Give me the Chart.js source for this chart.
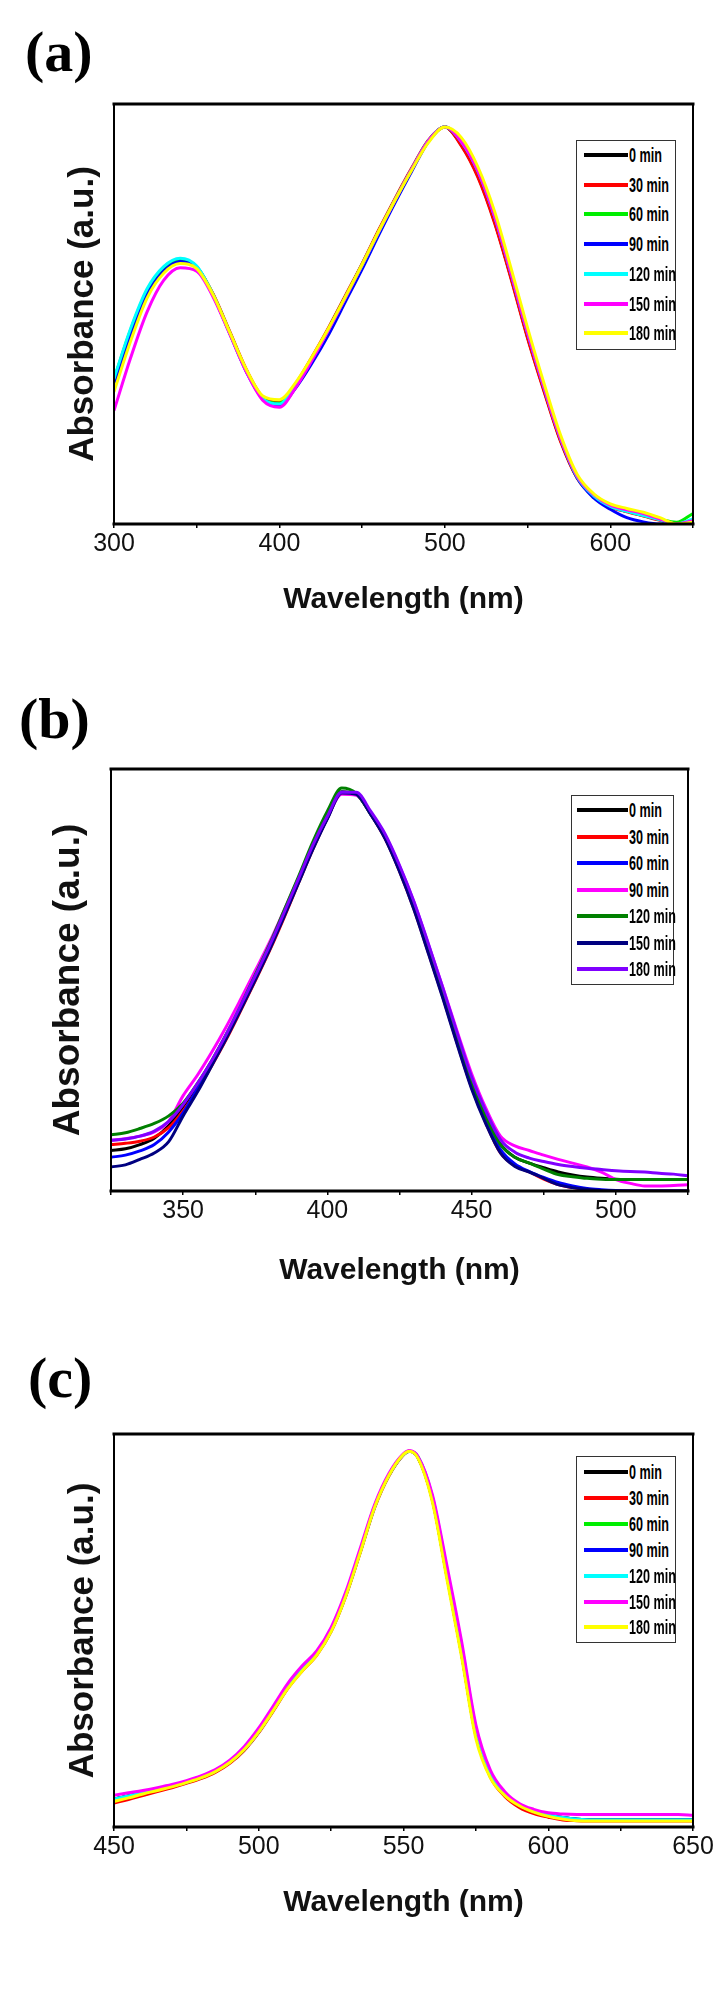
<!DOCTYPE html>
<html><head><meta charset="utf-8">
<script src="https://cdn.jsdelivr.net/npm/chart.js@4.4.1/dist/chart.umd.min.js"></script>
<style>
html,body{margin:0;padding:0;background:#fff;}
body{width:726px;height:1993px;position:relative;overflow:hidden;font-family:"Liberation Sans",Arial,sans-serif;}
canvas{position:absolute;left:0;}
.plabel{position:absolute;font-family:"Liberation Serif","Times New Roman",serif;font-weight:bold;font-size:58px;line-height:58px;color:#000;}
.legend{position:absolute;border:1.5px solid #333;background:#fff;box-sizing:border-box;}
.row{position:absolute;display:flex;align-items:center;font-weight:bold;font-size:21px;color:#000;white-space:nowrap;}
.row .ln{display:inline-block;height:4px;margin-right:1px;}
.row .tx{display:inline-block;transform:scaleX(0.6);transform-origin:left center;}
</style></head><body>
<div class="plabel" style="left:25px;top:23px">(a)</div>
<div class="plabel" style="left:19px;top:690px">(b)</div>
<div class="plabel" style="left:28px;top:1349px">(c)</div>
<script>
// ---------- Panel (a) ----------
const WL_A = [300,310,320,330,340,350,360,370,380,390,400,410,420,430,440,450,460,470,480,490,500,510,520,530,540,550,560,570,580,590,600,610,620,630,640,650];
const A_0   = [.34,.455,.55,.605,.627,.612,.545,.455,.365,.30,.288,.333,.397,.467,.542,.618,.697,.773,.845,.912,.945,.902,.828,.72,.587,.445,.318,.198,.11,.066,.042,.03,.02,.01,0,.005];
const A_30  = [.34,.452,.548,.603,.627,.612,.547,.458,.368,.302,.29,.335,.4,.47,.545,.62,.7,.776,.848,.914,.945,.9,.825,.717,.584,.442,.315,.196,.109,.065,.041,.029,.019,.009,0,.005];
const A_60  = [.345,.462,.556,.61,.63,.612,.545,.455,.365,.30,.288,.333,.397,.467,.542,.618,.697,.773,.845,.912,.945,.91,.84,.733,.597,.455,.324,.203,.112,.067,.043,.031,.021,.011,.004,.025];
const A_90  = [.335,.45,.546,.602,.625,.61,.543,.453,.363,.298,.284,.325,.385,.453,.53,.607,.688,.766,.84,.91,.945,.91,.84,.733,.597,.455,.324,.203,.11,.062,.035,.015,.005,0,0,.004];
const A_120 = [.346,.465,.56,.613,.633,.614,.545,.454,.363,.298,.286,.331,.395,.465,.54,.616,.695,.772,.845,.912,.945,.91,.84,.733,.597,.455,.324,.203,.112,.067,.042,.03,.02,.01,0,.012];
const A_150 = [.27,.395,.505,.58,.61,.602,.54,.452,.362,.294,.278,.326,.392,.464,.54,.617,.696,.772,.845,.912,.945,.91,.84,.733,.597,.455,.324,.203,.114,.07,.045,.034,.025,.012,0,.008];
const A_180 = [.315,.435,.538,.597,.62,.608,.545,.456,.368,.305,.296,.338,.4,.468,.542,.618,.697,.772,.843,.908,.945,.92,.85,.745,.609,.467,.334,.211,.118,.072,.048,.037,.028,.015,0,.004];
const TICKS_A = [300,400,500,600];
const LABELS_A = ['0 min','30 min','60 min','90 min','120 min','150 min','180 min'];

// ---------- Panel (b) ----------
const WL_B = [325,330,335,340,345,350,355,360,365,370,375,380,385,390,395,400,405,410,415,420,425,430,435,440,445,450,455,460,465,470,475,480,485,490,495,500,505,510,515,520,525];
const B_0   = [.096,.10,.11,.125,.155,.20,.25,.307,.37,.437,.507,.578,.655,.735,.815,.886,.946,.94,.895,.84,.765,.678,.577,.473,.365,.262,.178,.111,.08,.066,.055,.045,.038,.033,.03,.028,.027,.027,.027,.027,.027];
const B_30  = [.11,.113,.118,.128,.15,.19,.24,.298,.36,.428,.498,.57,.648,.73,.81,.883,.944,.94,.893,.835,.758,.668,.565,.46,.35,.245,.16,.09,.06,.045,.028,.015,.008,.003,.001,0,0,0,0,0,0];
const B_60  = [.08,.085,.095,.11,.14,.185,.243,.305,.368,.435,.505,.576,.653,.733,.813,.884,.945,.94,.893,.837,.76,.672,.57,.465,.355,.25,.165,.098,.064,.046,.032,.02,.012,.006,.003,.001,0,0,0,0,0];
const B_90  = [.12,.124,.13,.14,.165,.226,.275,.33,.39,.455,.522,.59,.665,.742,.818,.886,.94,.938,.895,.843,.77,.685,.585,.483,.378,.278,.195,.13,.107,.096,.085,.075,.066,.057,.045,.027,.018,.012,.012,.013,.015];
const B_120 = [.133,.138,.148,.16,.178,.208,.255,.31,.372,.44,.512,.585,.665,.745,.828,.90,.955,.942,.893,.838,.762,.675,.574,.47,.362,.258,.175,.11,.08,.066,.052,.039,.034,.03,.028,.027,.027,.027,.027,.027,.027];
const B_150 = [.057,.062,.075,.09,.117,.178,.235,.298,.362,.43,.50,.572,.65,.73,.81,.882,.943,.94,.893,.835,.757,.667,.563,.457,.347,.242,.158,.09,.058,.045,.03,.015,.008,.004,.001,0,0,0,0,0,0];
const B_180 = [.12,.123,.13,.142,.165,.205,.255,.31,.372,.44,.51,.582,.66,.74,.82,.888,.945,.945,.90,.846,.772,.686,.586,.482,.374,.27,.188,.122,.092,.078,.07,.063,.058,.054,.051,.048,.046,.045,.042,.04,.036];
const TICKS_B = [350,400,450,500];
const LABELS_B = ['0 min','30 min','60 min','90 min','120 min','150 min','180 min'];

// ---------- Panel (c) ----------
const WL_C = [450,455,460,465,470,475,480,485,490,495,500,505,510,515,520,525,530,535,540,545,550,552,555,560,565,570,575,580,585,590,595,600,605,610,615,620,625,630,635,640,645,650];
const C_0   = [.071,.079,.087,.095,.104,.114,.126,.142,.165,.198,.243,.298,.355,.40,.44,.50,.589,.70,.815,.896,.948,.956,.94,.832,.638,.443,.233,.129,.081,.055,.04,.03,.024,.02,.018,.018,.018,.018,.018,.018,.018,.018];
const C_30  = [.061,.07,.08,.09,.1,.111,.123,.139,.162,.195,.24,.295,.352,.397,.437,.497,.586,.697,.812,.894,.947,.956,.94,.832,.638,.443,.233,.127,.078,.05,.034,.025,.018,.016,.015,.015,.015,.015,.015,.015,.015,.015];
const C_60  = [.071,.079,.087,.095,.104,.114,.126,.142,.165,.198,.243,.298,.355,.40,.44,.50,.589,.70,.815,.896,.948,.956,.942,.838,.652,.463,.25,.137,.084,.056,.04,.03,.024,.02,.018,.018,.018,.018,.018,.018,.018,.018];
const C_90  = [.071,.079,.087,.095,.104,.114,.126,.142,.165,.198,.243,.298,.355,.40,.44,.50,.589,.70,.815,.896,.948,.956,.94,.835,.645,.452,.24,.132,.082,.055,.04,.03,.024,.02,.018,.018,.018,.018,.018,.018,.018,.018];
const C_120 = [.071,.079,.087,.095,.104,.114,.126,.142,.165,.198,.243,.298,.355,.40,.44,.50,.589,.70,.815,.896,.948,.956,.942,.84,.656,.466,.252,.138,.085,.056,.04,.03,.024,.02,.018,.018,.018,.018,.018,.018,.018,.018];
const C_150 = [.081,.087,.093,.10,.108,.118,.13,.146,.17,.205,.252,.308,.365,.41,.448,.508,.597,.708,.82,.90,.95,.958,.943,.845,.665,.475,.26,.145,.09,.06,.045,.036,.033,.032,.032,.032,.032,.032,.032,.032,.032,.03];
const C_180 = [.065,.074,.084,.093,.102,.113,.125,.141,.164,.197,.242,.296,.352,.397,.437,.497,.586,.697,.813,.895,.948,.956,.938,.826,.63,.435,.225,.125,.08,.054,.038,.027,.02,.016,.015,.015,.015,.015,.015,.015,.015,.015];
const TICKS_C = [450,500,550,600,650];
const LABELS_C = ['0 min','30 min','60 min','90 min','120 min','150 min','180 min'];

const COLORS_AC = ['#000000','#ff0000','#00ee00','#0000ff','#00ffff','#ff00ff','#ffff00'];
const COLORS_B  = ['#000000','#ff0000','#0000ff','#ff00ff','#008000','#000080','#8000ff'];

Chart.defaults.font.family = '"Liberation Sans", Arial, sans-serif';
Chart.defaults.color = '#111';

const framePlugin = {
  id:'frame',
  afterDraw(c){
    const ctx=c.ctx, a=c.chartArea;
    ctx.save(); ctx.strokeStyle='#000'; ctx.lineCap='square';
    ctx.lineWidth=3;
    ctx.beginPath(); ctx.moveTo(a.left,a.top); ctx.lineTo(a.right,a.top); ctx.stroke();
    ctx.beginPath(); ctx.moveTo(a.left,a.bottom); ctx.lineTo(a.right,a.bottom); ctx.stroke();
    ctx.lineWidth=2;
    ctx.beginPath(); ctx.moveTo(a.left,a.top); ctx.lineTo(a.left,a.bottom); ctx.stroke();
    ctx.beginPath(); ctx.moveTo(a.right,a.top); ctx.lineTo(a.right,a.bottom); ctx.stroke();
    ctx.restore();
  }
};

function makePanel(o){
  const cv=document.createElement('canvas');
  cv.width=726; cv.height=o.h; cv.style.top=o.top+'px';
  document.body.appendChild(cv);
  new Chart(cv,{
    type:'line',
    data:{datasets:o.series.map((ys,i)=>({
      label:o.labels[i],
      data:o.xs.map((x,j)=>({x:x,y:ys[j]})),
      borderColor:o.colors[i], backgroundColor:o.colors[i],
      borderWidth:3, pointRadius:0, fill:false,
      cubicInterpolationMode:'monotone',
      order:o.series.length-1-i
    }))},
    options:{
      responsive:false, animation:false, devicePixelRatio:1,
      layout:{padding:{top:o.padTop,right:o.padRight,left:0,bottom:0}},
      plugins:{legend:{display:false},tooltip:{enabled:false}},
      scales:{
        x:{type:'linear',min:o.xmin,max:o.xmax,
          ticks:{stepSize:o.step,autoSkip:false,maxRotation:0,padding:1,color:'#111',font:{size:25},
                 callback:v=>o.tickLabels.includes(v)?String(v):''},
          grid:{display:true,drawOnChartArea:false,drawTicks:true,tickLength:4,color:'#000',lineWidth:1.5},
          border:{display:false},
          title:{display:true,text:'Wavelength (nm)',font:{size:30,weight:'bold'},color:'#111',padding:{top:0,bottom:4}},
          afterFit:s=>{s.height=o.xh;}},
        y:{min:0,max:1,ticks:{display:false},grid:{display:false},border:{display:false},
          title:{display:true,text:'Absorbance (a.u.)',font:{size:o.ytsize,weight:'bold'},color:'#111',padding:{top:o.ytpad,bottom:0}},
          afterFit:s=>{s.width=o.yw;}}
      }
    },
    plugins:[framePlugin]
  });
  const box=document.createElement('div');
  box.className='legend';
  box.style.left=o.lg.left+'px'; box.style.top=o.lg.top+'px';
  box.style.width=o.lg.w+'px'; box.style.height=o.lg.h+'px';
  o.labels.forEach((lab,i)=>{
    const r=document.createElement('div');
    r.className='row';
    r.style.left=o.lg.lineLeft+'px';
    r.style.top=(o.lg.first+i*o.lg.sp-12)+'px';
    r.style.height='24px';
    const ln=document.createElement('span');
    ln.className='ln'; ln.style.width=o.lg.lineW+'px'; ln.style.background=o.colors[i];
    const t=document.createElement('span'); t.className='tx'; t.textContent=lab;
    r.appendChild(ln); r.appendChild(t); box.appendChild(r);
  });
  document.body.appendChild(box);
}

makePanel({top:80,h:542,padTop:24,padRight:33,yw:114,xh:98,ytpad:62,ytsize:35,
  xs:WL_A,series:[A_0,A_30,A_60,A_90,A_120,A_150,A_180],labels:LABELS_A,colors:COLORS_AC,
  xmin:300,xmax:650,step:50,tickLabels:TICKS_A,
  lg:{left:576,top:140,w:100,h:210,lineLeft:7,lineW:44,first:14,sp:29.7}});
makePanel({top:745,h:548,padTop:24,padRight:38,yw:111,xh:102,ytpad:47,ytsize:37,
  xs:WL_B,series:[B_0,B_30,B_60,B_90,B_120,B_150,B_180],labels:LABELS_B,colors:COLORS_B,
  xmin:325,xmax:525,step:25,tickLabels:TICKS_B,
  lg:{left:571,top:795,w:103,h:190,lineLeft:5,lineW:51,first:14,sp:26.5}});
makePanel({top:1410,h:515,padTop:24,padRight:33,yw:114,xh:98,ytpad:62,ytsize:35,
  xs:WL_C,series:[C_0,C_30,C_60,C_90,C_120,C_150,C_180],labels:LABELS_C,colors:COLORS_AC,
  xmin:450,xmax:650,step:25,tickLabels:TICKS_C,
  lg:{left:576,top:1456,w:100,h:187,lineLeft:7,lineW:44,first:15,sp:25.9}});
</script>
</body></html>
